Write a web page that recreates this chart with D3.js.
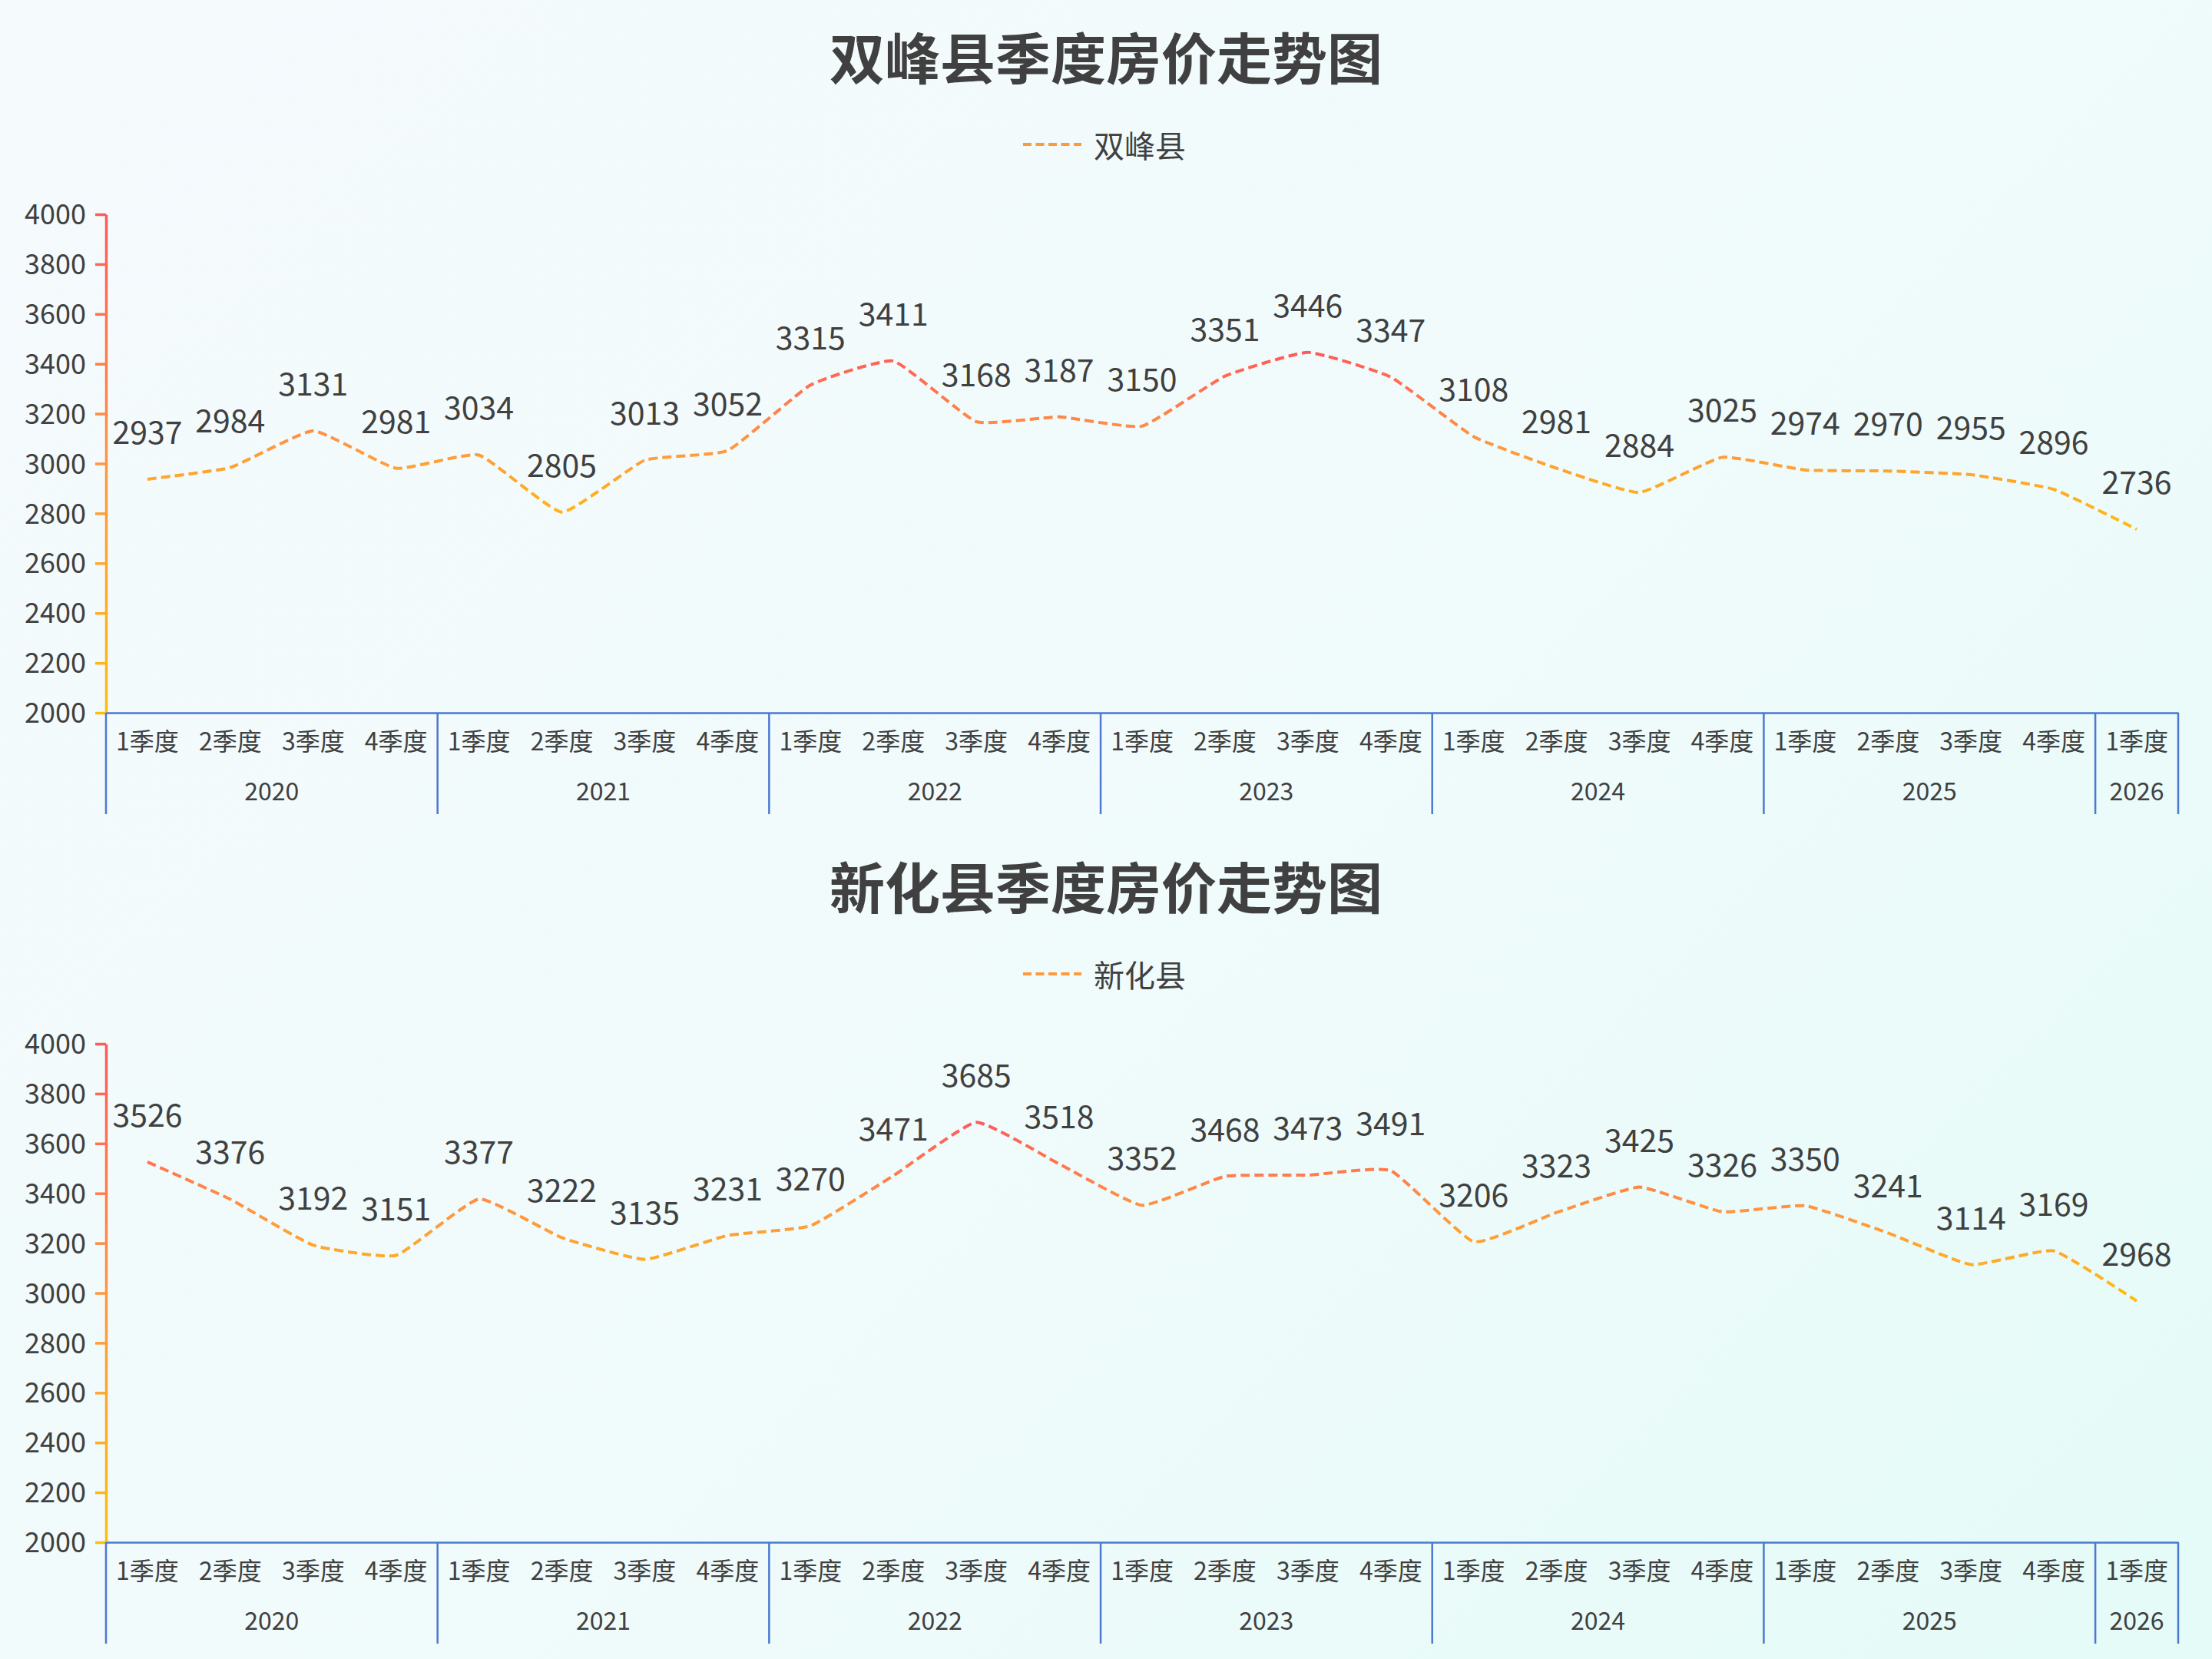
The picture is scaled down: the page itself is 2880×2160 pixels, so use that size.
<!DOCTYPE html>
<html>
<head>
<meta charset="utf-8">
<script src="https://cdn.jsdelivr.net/npm/d3@7"></script>
<style>
    html, body {
        margin: 0;
        padding: 0;
    }
    body {
        width: 2880px;
        height: 2160px;
        background: linear-gradient(135deg, #f5fafd 0%, #f0fbfb 55%, #e4fbf7 100%);
        font-family: "Noto Sans CJK SC", "Noto Sans", sans-serif;
    }
</style>
</head>
<body>
<div id="chart"></div>
<script>
//年份和季度
let years = ['2020', '2021', '2022', '2023', '2024', '2025', '2026'];
let quarters = ['1季度', '2季度', '3季度', '4季度'];
//2026年只有1季度
let quarterCount = [4, 4, 4, 4, 4, 4, 1];

//y轴刻度
let yTicks = [2000, 2200, 2400, 2600, 2800, 3000, 3200, 3400, 3600, 3800, 4000];

//双峰县每季度房价
let shuangfeng = [2937, 2984, 3131, 2981,
    3034, 2805, 3013, 3052,
    3315, 3411, 3168, 3187,
    3150, 3351, 3446, 3347,
    3108, 2981, 2884, 3025,
    2974, 2970, 2955, 2896,
    2736];

//新化县每季度房价
let xinhua = [3526, 3376, 3192, 3151,
    3377, 3222, 3135, 3231,
    3270, 3471, 3685, 3518,
    3352, 3468, 3473, 3491,
    3206, 3323, 3425, 3326,
    3350, 3241, 3114, 3169,
    2968];

//拼出类目 key: 年份|季度
let categories = [];
years.forEach(function (y, i) {
    for (let q = 0; q < quarterCount[i]; q++) {
        categories.push(y + '|' + quarters[q]);
    }
});

let W = 2880, H = 2160, panelH = 1080;
let textColor = '#404040';
let axisBlue = '#4a78d2';
let gradStops = [[0, '#ff5a5a'], [0.5, '#ff9640'], [1, '#ffbd0e']];

let svg = d3.select('#chart').append('svg')
    .attr('width', W)
    .attr('height', H);
let defs = svg.append('defs');

//画一个面板
let drawPanel = function (idx, title, name, values) {
    let top = idx * panelH;
    let g = svg.append('g').attr('transform', 'translate(0,' + top + ')');

    let left = 138, right = 2836, yTop = 279, yBottom = 928;

    //x轴是离散的，序数比例尺，两端留白
    let xScale = d3.scaleBand()
        .domain(categories)
        .range([left, right])
        .padding(0);
    let bw = xScale.bandwidth();
    let yScale = d3.scaleLinear()
        .domain([2000, 4000])
        .range([yBottom, yTop]);

    //渐变：坐标轴用本地坐标，折线用包围盒
    let axisGrad = defs.append('linearGradient')
        .attr('id', 'axisGrad' + idx)
        .attr('gradientUnits', 'userSpaceOnUse')
        .attr('x1', 0).attr('x2', 0)
        .attr('y1', yTop).attr('y2', yBottom);
    let lineGrad = defs.append('linearGradient')
        .attr('id', 'lineGrad' + idx)
        .attr('x1', 0).attr('x2', 0)
        .attr('y1', 0).attr('y2', 1);
    gradStops.forEach(function (s) {
        axisGrad.append('stop').attr('offset', s[0]).attr('stop-color', s[1]);
        lineGrad.append('stop').attr('offset', s[0]).attr('stop-color', s[1]);
    });
    let tickColor = d3.scaleLinear()
        .domain([4000, 3000, 2000])
        .range(gradStops.map(function (s) { return s[1]; }));

    //标题
    g.append('text')
        .attr('x', 1440)
        .attr('y', 71)
        .attr('text-anchor', 'middle')
        .attr('dominant-baseline', 'central')
        .attr('font-size', 72)
        .attr('font-weight', 'bold')
        .attr('fill', textColor)
        .text(title);

    //图例
    g.append('line')
        .attr('x1', 1332).attr('x2', 1408)
        .attr('y1', 188).attr('y2', 188)
        .attr('stroke', '#ff9a3c')
        .attr('stroke-width', 4)
        .attr('stroke-dasharray', '11 5.5');
    g.append('text')
        .attr('x', 1424)
        .attr('y', 188)
        .attr('dominant-baseline', 'central')
        .attr('font-size', 40)
        .attr('fill', textColor)
        .text(name);

    //y轴
    let yAxis = g.append('g')
        .attr('transform', 'translate(' + left + ',0)')
        .call(d3.axisLeft(yScale).tickValues(yTicks).tickFormat(d3.format('d'))
            .tickSize(14).tickPadding(12).tickSizeOuter(0));
    yAxis.select('.domain')
        .attr('stroke', 'url(#axisGrad' + idx + ')')
        .attr('stroke-width', 3.5);
    //tick 是水平线，直接按数值取颜色
    yAxis.selectAll('.tick line')
        .attr('stroke', function (d) { return tickColor(d); })
        .attr('stroke-width', 3.5);
    yAxis.selectAll('.tick text')
        .attr('font-size', 36)
        .attr('fill', textColor)
        .attr('dy', '0.35em')
        .attr('font-family', '"Noto Sans CJK SC", sans-serif');

    //x轴：季度
    let xAxis = g.append('g')
        .attr('transform', 'translate(0,' + yBottom + ')')
        .call(d3.axisBottom(xScale).tickSize(0).tickPadding(26).tickSizeOuter(0)
            .tickFormat(function (d) { return d.split('|')[1]; }));
    xAxis.select('.domain')
        .attr('stroke', axisBlue)
        .attr('stroke-width', 2.5);
    xAxis.selectAll('.tick text')
        .attr('font-size', 32)
        .attr('fill', textColor)
        .attr('font-family', '"Noto Sans CJK SC", sans-serif');

    //x轴：年份分组和分隔线
    let groupStart = 0;
    years.forEach(function (y, i) {
        let first = categories[groupStart];
        let last = categories[groupStart + quarterCount[i] - 1];
        let x0 = xScale(first);
        let x1 = xScale(last) + bw;
        g.append('text')
            .attr('x', (x0 + x1) / 2)
            .attr('y', 1028)
            .attr('text-anchor', 'middle')
            .attr('dominant-baseline', 'central')
            .attr('font-size', 32)
            .attr('fill', textColor)
            .text(y);
        if (i === 0) {
            g.append('line')
                .attr('x1', x0).attr('x2', x0)
                .attr('y1', yBottom).attr('y2', 1060)
                .attr('stroke', axisBlue).attr('stroke-width', 2.5);
        }
        g.append('line')
            .attr('x1', x1).attr('x2', x1)
            .attr('y1', yBottom).attr('y2', 1060)
            .attr('stroke', axisBlue).attr('stroke-width', 2.5);
        groupStart += quarterCount[i];
    });

    //折线
    let line = d3.line()
        .x(function (d, i) { return xScale(categories[i]) + bw / 2; })
        .y(function (d) { return yScale(d); })
        .curve(d3.curveCardinal.tension(0.6));
    g.append('path')
        .datum(values)
        .attr('d', line)
        .attr('fill', 'none')
        .attr('stroke', 'url(#lineGrad' + idx + ')')
        .attr('stroke-width', 4)
        .attr('stroke-dasharray', '12 6');

    //数据标签
    g.selectAll('text.label')
        .data(values)
        .enter()
        .append('text')
        .attr('class', 'label')
        .attr('x', function (d, i) { return xScale(categories[i]) + bw / 2; })
        .attr('y', function (d) { return yScale(d) - 46; })
        .attr('text-anchor', 'middle')
        .attr('font-size', 41)
        .attr('fill', textColor)
        .text(function (d) { return d; });
};

drawPanel(0, '双峰县季度房价走势图', '双峰县', shuangfeng);
drawPanel(1, '新化县季度房价走势图', '新化县', xinhua);
</script>
</body>
</html>
